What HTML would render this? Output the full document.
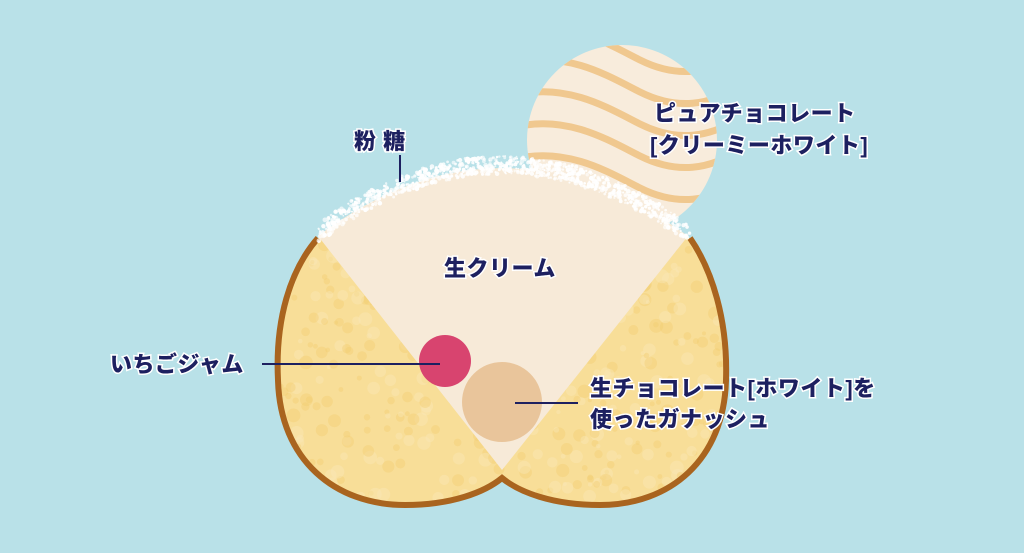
<!DOCTYPE html>
<html><head><meta charset="utf-8"><style>
html,body{margin:0;padding:0;background:#b9e1e8;}
svg{display:block}
.t{font-family:"Liberation Sans","Noto Sans CJK JP",sans-serif;font-weight:900;font-size:22px;fill:#1d2060;stroke:#fff;stroke-width:3px;paint-order:stroke;letter-spacing:0.5px}
</style></head><body>
<svg id="s" width="1024" height="553" viewBox="0 0 1024 553" xmlns="http://www.w3.org/2000/svg">
<defs>
<clipPath id="cc"><circle cx="622" cy="140" r="95"/></clipPath>
<clipPath id="bc"><path d="M318,238 C290,270 275,320 278,380 C280,460 335,505 405,505 C452,505 485,492 502,478 C519,492 552,505 600,505 C670,505 724,460 726,380 C728,320 712,270 690,238 Z"/></clipPath>
</defs>
<rect width="1024" height="553" fill="#b9e1e8"/>
<circle cx="622" cy="140" r="95" fill="#f8ecdc"/>
<g clip-path="url(#cc)" fill="none" stroke="#f0c88f" stroke-width="7">
<path d="M520,30 C570,20 610,45 640,60 C680,80 710,70 730,60"/>
<path d="M520,62 C570,52 610,77 640,92 C680,112 710,102 730,92"/>
<path d="M520,94 C570,84 610,109 640,124 C680,144 710,134 730,124"/>
<path d="M520,126 C570,116 610,141 640,156 C680,176 710,166 730,156"/>
<path d="M520,158 C570,148 610,173 640,188 C680,208 710,198 730,188"/>
<path d="M520,190 C570,180 610,205 640,220 C680,240 710,230 730,220"/>
<path d="M520,222 C570,212 610,237 640,252"/>
</g>
<path d="M318,238 C290,270 275,320 278,380 C280,460 335,505 405,505 C452,505 485,492 502,478 C519,492 552,505 600,505 C670,505 724,460 726,380 C728,320 712,270 690,238 Z" fill="#f8de98"/>
<g id="spk" clip-path="url(#bc)"></g>
<path d="M318,238 C290,270 275,320 278,380 C280,460 335,505 405,505 C452,505 485,492 502,478 C519,492 552,505 600,505 C670,505 724,460 726,380 C728,320 712,270 690,238" fill="none" stroke="#a9641f" stroke-width="6"/>
<path d="M318,236 Q500,100 688,236 L502,470 Z" fill="#f7ead8"/>
<g id="sug" fill="#fff"></g>
<circle cx="445" cy="361" r="26" fill="#d8446f"/>
<circle cx="502" cy="402" r="40" fill="#e9c59b"/>
<line x1="400" y1="155" x2="400" y2="182" stroke="#1d2060" stroke-width="2"/>
<line x1="262" y1="364" x2="440" y2="364" stroke="#1d2060" stroke-width="2"/>
<line x1="515" y1="403" x2="578" y2="403" stroke="#1d2060" stroke-width="2"/>
<text class="t" x="354" y="149">粉 糖</text>
<text class="t" x="654" y="121">ピュアチョコレート</text>
<text class="t" x="650" y="153">[クリーミーホワイト]</text>
<text class="t" x="444" y="276">生クリーム</text>
<text class="t" x="110" y="372">いちごジャム</text>
<text class="t" x="590" y="396">生チョコレート[ホワイト]を</text>
<text class="t" x="590" y="427">使ったガナッシュ</text>
</svg>
<script>
var ns="http://www.w3.org/2000/svg";
var seed=7;function r(){seed=(seed*16807)%2147483647;return seed/2147483647;}
var sp=document.getElementById("spk");
for(var i=0;i<500;i++){var c=document.createElementNS(ns,"circle");c.setAttribute("cx",275+r()*455);c.setAttribute("cy",235+r()*270);c.setAttribute("r",2+r()*5);c.setAttribute("fill",r()<0.6?"#f2cd70":"#fbe9b8");c.setAttribute("opacity",0.4);sp.appendChild(c);}
var sg=document.getElementById("sug");
for(var i=0;i<1000;i++){var t=r();var x=(1-t)*(1-t)*318+2*(1-t)*t*500+t*t*688;var y=(1-t)*(1-t)*236+2*(1-t)*t*100+t*t*236;var d=(r()-0.5)*18-3;var c=document.createElementNS(ns,"circle");c.setAttribute("cx",x+(r()-0.5)*4);c.setAttribute("cy",y+d);c.setAttribute("r",0.8+r()*1.6);c.setAttribute("opacity",0.6+r()*0.4);sg.appendChild(c);}
</script>
</body></html>
